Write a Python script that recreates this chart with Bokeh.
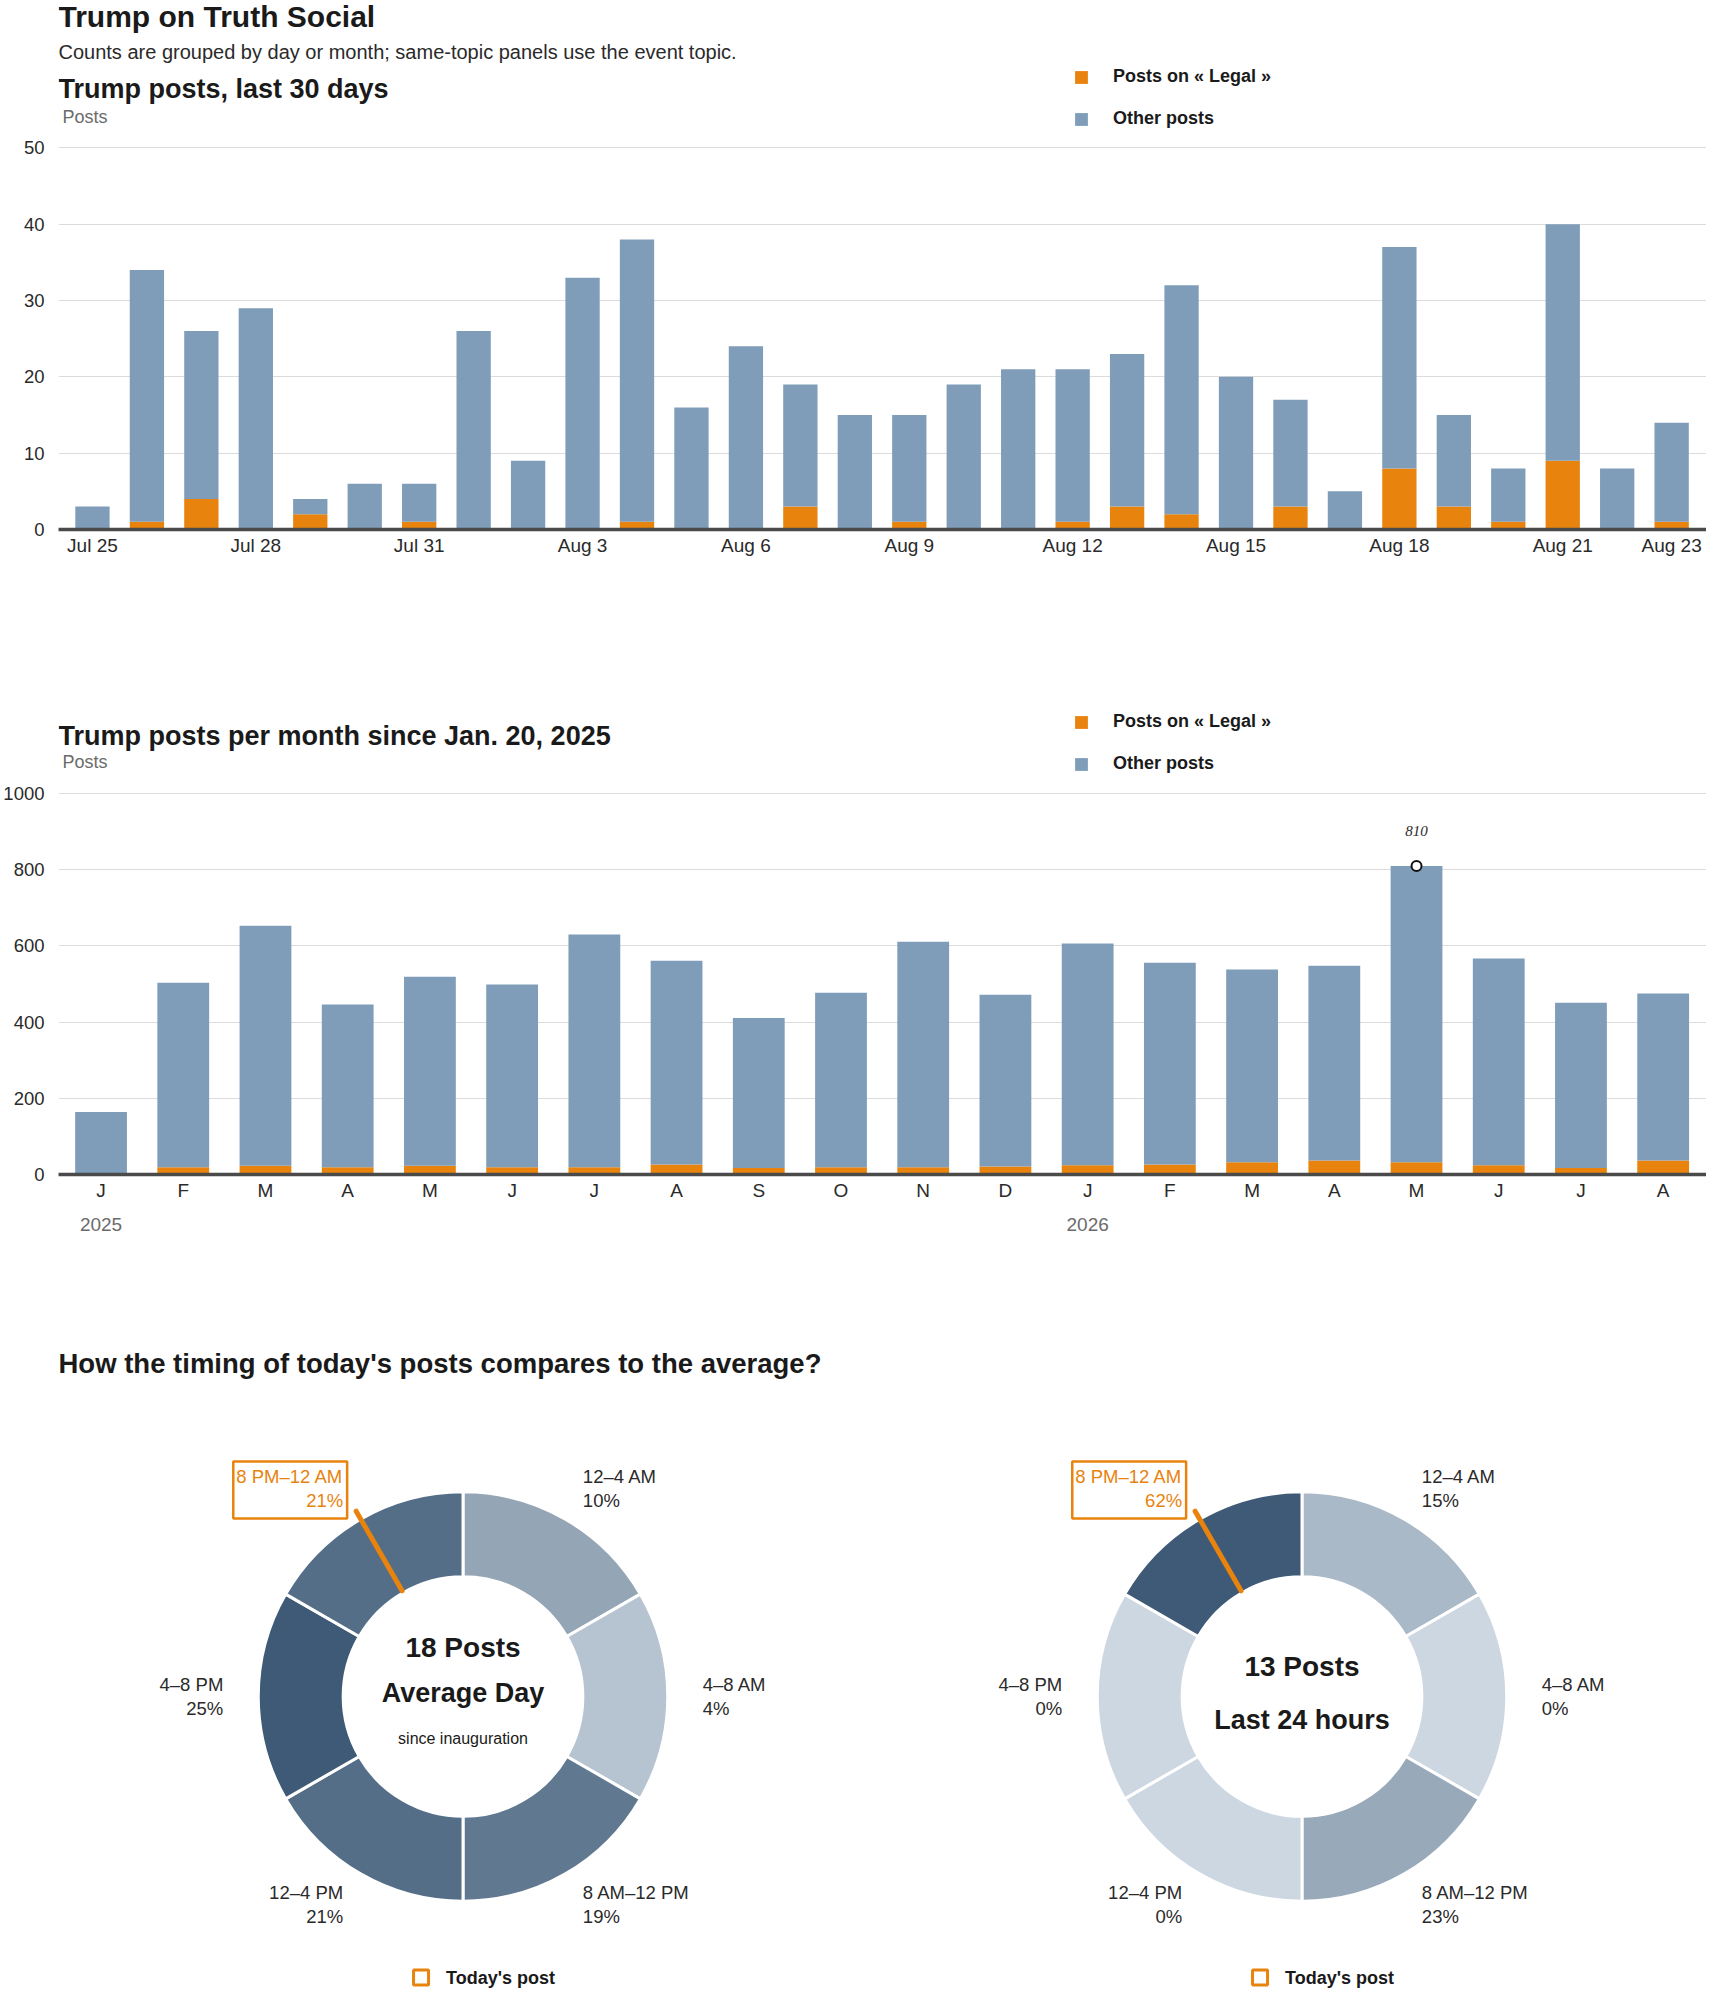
import math
from bokeh.plotting import figure
from bokeh.models import ColumnDataSource, Range1d, FixedTicker, Label, Legend, LinearAxis
from bokeh.layouts import column
from bokeh.embed import file_html
from bokeh.resources import INLINE
from bokeh.core.properties import value

# ---------------- data ----------------
day_labels = ["Jul 25", "Jul 26", "Jul 27", "Jul 28", "Jul 29", "Jul 30", "Jul 31",
              "Aug 1", "Aug 2", "Aug 3", "Aug 4", "Aug 5", "Aug 6", "Aug 7", "Aug 8",
              "Aug 9", "Aug 10", "Aug 11", "Aug 12", "Aug 13", "Aug 14", "Aug 15",
              "Aug 16", "Aug 17", "Aug 18", "Aug 19", "Aug 20", "Aug 21", "Aug 22", "Aug 23"]
day_total = [3, 34, 26, 29, 4, 6, 6, 26, 9, 33, 38, 16, 24, 19, 15,
             15, 19, 21, 21, 23, 32, 20, 17, 5, 37, 15, 8, 40, 8, 14]
day_legal = [0, 1, 4, 0, 2, 0, 1, 0, 0, 0, 1, 0, 0, 3, 0,
             1, 0, 0, 1, 3, 2, 0, 3, 0, 8, 3, 1, 9, 0, 1]
day_tick_idx = [0, 3, 6, 9, 12, 15, 18, 21, 24, 27, 29]

month_labels = ["J", "F", "M", "A", "M", "J", "J", "A", "S", "O", "N", "D",
                "J", "F", "M", "A", "M", "J", "J", "A"]
month_years = [2025] * 12 + [2026] * 8
month_total = [164, 503, 653, 446, 519, 499, 630, 561, 411, 477, 611, 472,
               606, 556, 538, 548, 810, 567, 451, 475]
month_legal = [0, 19, 23, 19, 23, 19, 19, 26, 17, 19, 19, 21,
               24, 26, 32, 37, 32, 24, 17, 37]

slots = ["12–4 AM", "4–8 AM", "8 AM–12 PM", "12–4 PM", "4–8 PM", "8 PM–12 AM"]
avg_pct = [10, 4, 19, 21, 25, 21]
avg_posts = 18
last24_pct = [15, 0, 23, 0, 0, 62]
last24_posts = 13
today_slot = "8 PM–12 AM"

# ---------------- style ----------------
FONT = "Liberation Sans"
ORANGE = "#e8830e"
BLUE = "#7f9db9"
GRID = "#dcdcdc"
INK = "#1a1a1a"
TXT = "#2a2a2a"
GRAY = "#6b6b6b"
W = 1706
LEFT = 56


def bar_figure(height, frame_h, x_range, y_end, yticks, xticks, overrides):
    p = figure(width=W, height=height, x_range=x_range, y_range=Range1d(0, y_end),
               output_backend="svg", toolbar_location=None, title=None,
               min_border_left=LEFT, min_border_right=0, min_border_top=0,
               min_border_bottom=height - frame_h)
    p.outline_line_color = None
    p.background_fill_color = "white"
    p.border_fill_color = "white"
    p.xgrid.visible = False
    p.ygrid.ticker = FixedTicker(ticks=yticks)
    p.ygrid.grid_line_color = GRID
    p.ygrid.grid_line_width = 1
    p.yaxis.ticker = FixedTicker(ticks=yticks)
    p.yaxis.axis_line_color = None
    p.yaxis.major_tick_line_color = None
    p.yaxis.minor_tick_line_color = None
    p.yaxis.major_label_standoff = 8
    p.yaxis.major_label_text_font = FONT
    p.yaxis.major_label_text_font_size = "18.5px"
    p.yaxis.major_label_text_color = TXT
    p.xaxis.ticker = FixedTicker(ticks=xticks)
    p.xaxis.major_label_overrides = overrides
    p.xaxis.axis_line_color = "#4a4a4a"
    p.xaxis.axis_line_width = 3.5
    p.xaxis.major_tick_line_color = None
    p.xaxis.minor_tick_line_color = None
    p.xaxis.major_tick_out = 0
    p.xaxis.major_tick_in = 0
    p.xaxis.major_label_standoff = 5
    p.xaxis.major_label_text_font = FONT
    p.xaxis.major_label_text_font_size = "19px"
    p.xaxis.major_label_text_color = TXT
    return p


def stacked(p, xs, legal, total, width, leg_y):
    src = ColumnDataSource(dict(x=xs, legal=legal, other=[t - l for t, l in zip(total, legal)]))
    rs = p.vbar_stack(["legal", "other"], x="x", width=width, color=[ORANGE, BLUE],
                      line_width=0, source=src)
    leg = Legend(items=[("Posts on « Legal »", [rs[0]]), ("Other posts", [rs[1]])],
                 location=(1015, leg_y), orientation="vertical",
                 glyph_width=16, glyph_height=16, label_standoff=24, spacing=21,
                 padding=0, margin=0, border_line_color=None, background_fill_alpha=0,
                 label_text_font=FONT, label_text_font_style="bold",
                 label_text_font_size="18px", label_text_color=INK, label_height=16)
    p.add_layout(leg)


def head(p, text, y, size, style="normal", color=INK, x=0):
    p.add_layout(Label(x=x, y=y, x_units="screen", y_units="screen", text=text,
                       text_font=FONT, text_font_size=size, text_font_style=style,
                       text_color=color, text_baseline="middle", text_align="left"))


# ---------------- chart 1: last 30 days ----------------
H1, FB1 = 600, 529                 # figure height, frame bottom (page y)
PX1 = 381.6 / 50                   # pixels per post
p1 = bar_figure(H1, FB1, Range1d(-0.6236, 29.64), FB1 / PX1, [0, 10, 20, 30, 40, 50],
                day_tick_idx, {i: day_labels[i] for i in day_tick_idx})
stacked(p1, list(range(len(day_labels))), day_legal, day_total, 0.63, 400)
head(p1, "Trump on Truth Social", FB1 - 16, "30px", "bold")
head(p1, "Counts are grouped by day or month; same-topic panels use the event topic.",
     FB1 - 51, "20px", "normal", TXT)
head(p1, "Trump posts, last 30 days", FB1 - 88, "27px", "bold")
head(p1, "Posts", FB1 - 116, "18px", "normal", GRAY, x=4)

# ---------------- chart 2: per month ----------------
TOP2, H2, FB2 = 600, 660, 1174
PX2 = 381 / 1000
mx = list(range(len(month_labels)))
p2 = bar_figure(H2, FB2 - TOP2, Range1d(-0.5175, 19.527), (FB2 - TOP2) / PX2,
                [0, 200, 400, 600, 800, 1000], mx, {i: month_labels[i] for i in mx})
stacked(p2, mx, month_legal, month_total, 0.63, 400)
head(p2, "Trump posts per month since Jan. 20, 2025", FB2 - 735, "27px", "bold")
head(p2, "Posts", FB2 - 761, "18px", "normal", GRAY, x=4)
year_idx = [month_years.index(y) for y in sorted(set(month_years))]
yax = LinearAxis(ticker=FixedTicker(ticks=year_idx),
                 major_label_overrides={i: str(month_years[i]) for i in year_idx},
                 axis_line_color=None, major_tick_line_color=None, minor_tick_line_color=None,
                 major_tick_out=0, major_tick_in=0, major_label_standoff=14,
                 major_label_text_font=FONT, major_label_text_font_size="19px",
                 major_label_text_color=GRAY)
p2.add_layout(yax, "below")
imax = max(mx, key=lambda i: month_total[i])
p2.scatter(x=[imax], y=[month_total[imax]], size=10, fill_color="white",
           line_color="#111111", line_width=2)
p2.text(x=[imax], y=[month_total[imax]], text=[str(month_total[imax])], y_offset=-35,
        text_align="center", text_baseline="middle", text_font=value("Liberation Serif"),
        text_font_style="italic", text_font_size="15px", text_color=TXT)

# ---------------- donuts ----------------
TOP3, BOT3 = 1260, 1990
p3 = figure(width=W, height=BOT3 - TOP3, x_range=Range1d(LEFT, W), y_range=Range1d(BOT3, TOP3),
            output_backend="svg", toolbar_location=None, title=None,
            x_axis_location=None, y_axis_location=None, min_border=0,
            min_border_left=LEFT, min_border_right=0)
p3.outline_line_color = None
p3.xgrid.visible = False
p3.ygrid.visible = False

p3.text(x=[56], y=[1363], text=["How the timing of today's posts compares to the average?"],
        text_font=value(FONT), text_font_style="bold", text_font_size="27.5px",
        text_color=INK, text_baseline="middle", text_align="left")

LIGHT = (205, 215, 225)
DARK = (62, 90, 118)


def shade(t):
    return "#%02x%02x%02x" % tuple(int(round(a + (b - a) * t)) for a, b in zip(LIGHT, DARK))


CY = 1696
R_IN, R_OUT, R_LAB = 120, 205, 240


def donut(cx, pcts, center_lines):
    n = len(slots)
    top = max(pcts)
    colors = [shade(v / top) for v in pcts]
    step = 2 * math.pi / n
    start = [math.pi / 2 - step * (i + 1) for i in range(n)]
    end = [math.pi / 2 - step * i for i in range(n)]
    p3.annular_wedge(x=cx, y=CY, inner_radius=R_IN, outer_radius=R_OUT,
                     start_angle=start, end_angle=end, direction="anticlock",
                     fill_color=colors, line_color="white", line_width=3)
    for side in ("left", "right"):
        xs, ys, tx, cols = [], [], [], []
        for i, name in enumerate(slots):
            th = step * (i + 0.5)
            ax = cx + R_LAB * math.sin(th)
            ay = CY - R_LAB * math.cos(th)
            s = "left" if math.sin(th) > 0 else "right"
            if s != side:
                continue
            col = ORANGE if name == today_slot else TXT
            xs += [ax, ax]
            ys += [ay - 12, ay + 12]
            tx += [name, "%d%%" % pcts[i]]
            cols += [col, col]
            if name == today_slot:
                bx = ax - 53 if side == "right" else ax + 53
                p3.rect(x=[bx], y=[ay + 1.3], width=114, height=57, fill_color=None,
                        line_color=ORANGE, line_width=2.5)
                p3.segment(x0=[cx + 122 * math.sin(th)], y0=[CY - 122 * math.cos(th)],
                           x1=[cx + 214 * math.sin(th)], y1=[CY - 214 * math.cos(th)],
                           line_color=ORANGE, line_width=5, line_cap="round")
        p3.text(x=xs, y=ys, text=tx, text_color=cols, text_align=side,
                text_baseline="middle", text_font=value(FONT), text_font_size="18.5px")
    for dy, txt, size, style in center_lines:
        p3.text(x=[cx], y=[CY + dy], text=[txt], text_align="center", text_baseline="middle",
                text_font=value(FONT), text_font_size=size, text_font_style=style,
                text_color=INK)
    p3.scatter(x=[cx - 42], y=[1977], marker="square", size=15, fill_alpha=0,
               line_color=ORANGE, line_width=3)
    p3.text(x=[cx - 17], y=[1977], text=["Today's post"], text_align="left",
            text_baseline="middle", text_font=value(FONT), text_font_style="bold",
            text_font_size="18px", text_color=INK)


donut(461, avg_pct, [(-49, "%d Posts" % avg_posts, "28px", "bold"),
                     (-3.5, "Average Day", "27px", "bold"),
                     (42, "since inauguration", "16px", "normal")])
donut(1301, last24_pct, [(-30.5, "%d Posts" % last24_posts, "28px", "bold"),
                         (23, "Last 24 hours", "27px", "bold")])

layout = column(p1, p2, p3, spacing=0)
open("out.html", "w").write(file_html(layout, INLINE))
